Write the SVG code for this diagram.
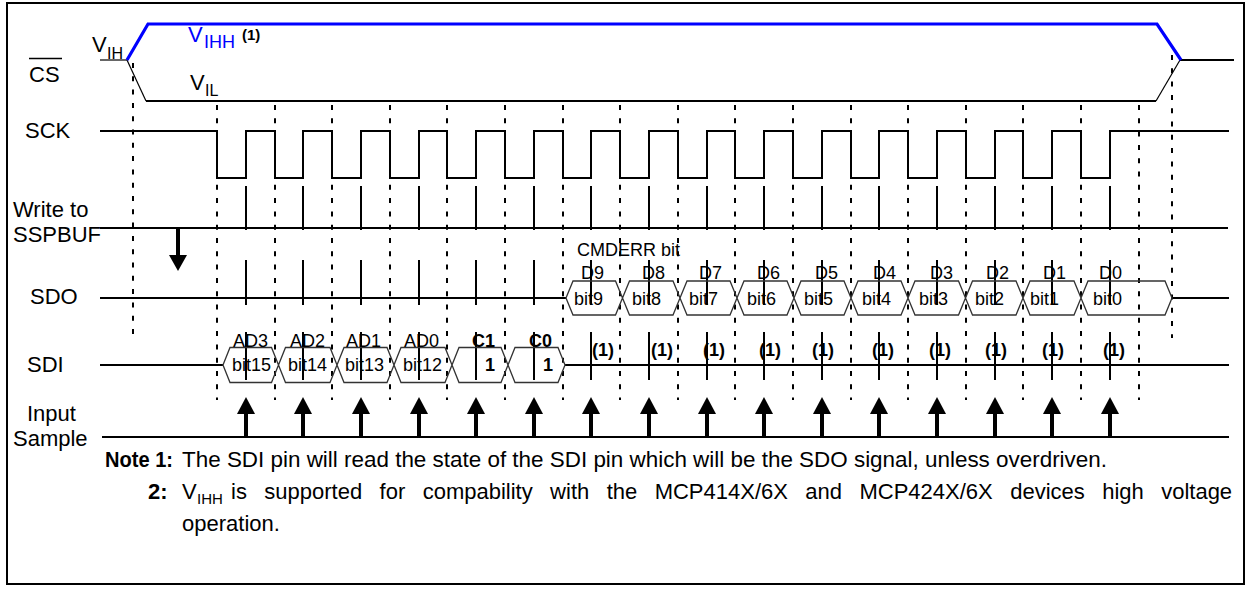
<svg xmlns="http://www.w3.org/2000/svg" xmlns:xlink="http://www.w3.org/1999/xlink" width="1251" height="592" viewBox="0 0 1251 592">
<style>
text{font-family:"Liberation Sans",Arial,sans-serif;fill:#000}
.lbl{font-size:22px}
.sm{font-size:18px}
.b{font-weight:bold}
.note{font-size:22px}
.sig{stroke:#000;stroke-width:2;fill:none}
.thin{stroke:#000;stroke-width:1.2;fill:none}
.dash{stroke:#000;stroke-width:2;stroke-dasharray:5 8.3;fill:none}
.mark{stroke:#000;stroke-width:2;fill:none}
.hex{stroke:#333;stroke-width:1.3;fill:none}
.blue{stroke:#0000ff;stroke-width:3.2;fill:none}
</style>
<defs>
<g id="upArrow"><rect x="-2" y="413" width="4" height="24" fill="#000"/><polygon points="0,397 -9,414 9,414" fill="#000"/></g>
</defs>
<rect x="7" y="3" width="1237" height="581" fill="#fff" stroke="#000" stroke-width="2"/>

<g id="connectors">
<g id="cs-dashes">
<line class="dash" x1="133" y1="63" x2="133" y2="338"/>
<line class="dash" x1="1172" y1="55" x2="1172" y2="338"/>
</g>
<g id="clock-dashes">
<line class="dash" x1="217" y1="105" x2="217" y2="400"/>
<line class="dash" x1="275" y1="105" x2="275" y2="400"/>
<line class="dash" x1="332" y1="105" x2="332" y2="400"/>
<line class="dash" x1="390" y1="105" x2="390" y2="400"/>
<line class="dash" x1="447" y1="105" x2="447" y2="400"/>
<line class="dash" x1="505" y1="105" x2="505" y2="400"/>
<line class="dash" x1="563" y1="105" x2="563" y2="400"/>
<line class="dash" x1="620" y1="105" x2="620" y2="400"/>
<line class="dash" x1="678" y1="105" x2="678" y2="400"/>
<line class="dash" x1="735" y1="105" x2="735" y2="400"/>
<line class="dash" x1="793" y1="105" x2="793" y2="400"/>
<line class="dash" x1="851" y1="105" x2="851" y2="400"/>
<line class="dash" x1="908" y1="105" x2="908" y2="400"/>
<line class="dash" x1="966" y1="105" x2="966" y2="400"/>
<line class="dash" x1="1023" y1="105" x2="1023" y2="400"/>
<line class="dash" x1="1081" y1="105" x2="1081" y2="400"/>
<line class="dash" x1="1139" y1="105" x2="1139" y2="400"/>
</g>
<g id="rise-marks">
<path class="mark" d="M246,186V230M246,260V305M246,332V380"/>
<path class="mark" d="M303,186V230M303,260V305M303,332V380"/>
<path class="mark" d="M361,186V230M361,260V305M361,332V380"/>
<path class="mark" d="M419,186V230M419,260V305M419,332V380"/>
<path class="mark" d="M476,186V230M476,260V305M476,332V380"/>
<path class="mark" d="M534,186V230M534,260V305M534,332V380"/>
<path class="mark" d="M591,186V230M591,260V305M591,332V380"/>
<path class="mark" d="M649,186V230M649,260V305M649,332V380"/>
<path class="mark" d="M707,186V230M707,260V305M707,332V380"/>
<path class="mark" d="M764,186V230M764,260V305M764,332V380"/>
<path class="mark" d="M822,186V230M822,260V305M822,332V380"/>
<path class="mark" d="M879,186V230M879,260V305M879,332V380"/>
<path class="mark" d="M937,186V230M937,260V305M937,332V380"/>
<path class="mark" d="M995,186V230M995,260V305M995,332V380"/>
<path class="mark" d="M1052,186V230M1052,260V305M1052,332V380"/>
<path class="mark" d="M1110,186V230M1110,260V305M1110,332V380"/>
</g>
<g id="write-arrow">
<rect x="176" y="228" width="4" height="28" fill="#000"/>
<polygon points="169,255 187,255 178,271" fill="#000"/>
</g>
<g id="sample-arrows">
<use xlink:href="#upArrow" x="246"/>
<use xlink:href="#upArrow" x="303"/>
<use xlink:href="#upArrow" x="361"/>
<use xlink:href="#upArrow" x="419"/>
<use xlink:href="#upArrow" x="476"/>
<use xlink:href="#upArrow" x="534"/>
<use xlink:href="#upArrow" x="591"/>
<use xlink:href="#upArrow" x="649"/>
<use xlink:href="#upArrow" x="707"/>
<use xlink:href="#upArrow" x="764"/>
<use xlink:href="#upArrow" x="822"/>
<use xlink:href="#upArrow" x="879"/>
<use xlink:href="#upArrow" x="937"/>
<use xlink:href="#upArrow" x="995"/>
<use xlink:href="#upArrow" x="1052"/>
<use xlink:href="#upArrow" x="1110"/>
</g>
</g>

<g id="cs">
<line x1="100" y1="60" x2="127" y2="60" stroke="#333" stroke-width="1.5"/>
<path class="thin" d="M127,60 L146,101"/>
<line class="sig" x1="146" y1="101" x2="1156" y2="101"/>
<path class="thin" d="M1156,101 L1180,60"/>
<line class="sig" x1="1180" y1="60" x2="1234" y2="60"/>
<path class="blue" d="M127,60 L148,24 H1157 L1181,60"/>
<text class="lbl" x="29" y="82">CS</text>
<line x1="29" y1="58.5" x2="62" y2="58.5" stroke="#000" stroke-width="1.5"/>
<text class="lbl" x="92" y="52">V</text><text x="107" y="59" font-size="16">IH</text>
<text class="lbl" x="188" y="42" style="fill:#0000ff">V</text><text x="204" y="48" font-size="18" style="fill:#0000ff">IHH</text><text class="b" x="242" y="40" font-size="15">(1)</text>
<text class="lbl" x="190" y="90">V</text><text x="205" y="96" font-size="16">IL</text>
</g>

<g id="sck">
<text class="lbl" x="25" y="138">SCK</text>
<path class="sig" d="M100,131 H217 V178 H246 V131 H275 V178 H303 V131 H332 V178 H361 V131 H390 V178 H419 V131 H447 V178 H476 V131 H505 V178 H534 V131 H563 V178 H591 V131 H620 V178 H649 V131 H678 V178 H707 V131 H735 V178 H764 V131 H793 V178 H822 V131 H851 V178 H879 V131 H908 V178 H937 V131 H966 V178 H995 V131 H1023 V178 H1052 V131 H1081 V178 H1110 V131 H1229"/>
</g>

<g id="write-sspbuf">
<text class="lbl" x="13" y="217">Write to</text>
<text class="lbl" x="13" y="242">SSPBUF</text>
<line class="sig" x1="100" y1="228" x2="1228" y2="228"/>
</g>

<g id="sdo">
<text class="lbl" x="30" y="304">SDO</text>
<line class="sig" x1="100" y1="298" x2="566" y2="298"/>
<line class="sig" x1="1172" y1="298" x2="1229" y2="298"/>
<path class="hex" d="M566,298 L573,281 L615.5,281 L622.5,298 L615.5,315 L573,315 Z M622.5,298 L629.5,281 L673,281 L680,298 L673,315 L629.5,315 Z M680,298 L687,281 L730,281 L737,298 L730,315 L687,315 Z M737,298 L744,281 L787,281 L794,298 L787,315 L744,315 Z M794,298 L801,281 L844,281 L851,298 L844,315 L801,315 Z M851,298 L858,281 L901,281 L908,298 L901,315 L858,315 Z M908,298 L915,281 L958.5,281 L965.5,298 L958.5,315 L915,315 Z M965.5,298 L972.5,281 L1016,281 L1023,298 L1016,315 L972.5,315 Z M1023,298 L1030,281 L1074,281 L1081,298 L1074,315 L1030,315 Z M1081,298 L1088,281 L1165,281 L1172,298 L1165,315 L1088,315 Z"/>
<text class="sm" x="577" y="256">CMDERR bit</text>
<text class="sm" x="581" y="279">D9</text>
<text class="sm" x="642" y="279">D8</text>
<text class="sm" x="699" y="279">D7</text>
<text class="sm" x="757" y="279">D6</text>
<text class="sm" x="815" y="279">D5</text>
<text class="sm" x="873" y="279">D4</text>
<text class="sm" x="930" y="279">D3</text>
<text class="sm" x="986" y="279">D2</text>
<text class="sm" x="1043" y="279">D1</text>
<text class="sm" x="1099" y="279">D0</text>
<text class="sm" x="574" y="305">bit9</text>
<text class="sm" x="632" y="305">bit8</text>
<text class="sm" x="689" y="305">bit7</text>
<text class="sm" x="747" y="305">bit6</text>
<text class="sm" x="804" y="305">bit5</text>
<text class="sm" x="862" y="305">bit4</text>
<text class="sm" x="919" y="305">bit3</text>
<text class="sm" x="975" y="305">bit2</text>
<text class="sm" x="1030" y="305">bit1</text>
<text class="sm" x="1093" y="305">bit0</text>
</g>

<g id="sdi">
<text class="lbl" x="27" y="372">SDI</text>
<line class="sig" x1="100" y1="365" x2="223" y2="365"/>
<line class="sig" x1="565" y1="365" x2="1229" y2="365"/>
<path class="hex" d="M223,365 L230,347.5 L271.5,347.5 L278.5,365 L271.5,382.5 L230,382.5 Z M278.5,365 L285.5,347.5 L330,347.5 L337,365 L330,382.5 L285.5,382.5 Z M337,365 L344,347.5 L387,347.5 L394,365 L387,382.5 L344,382.5 Z M394,365 L401,347.5 L445,347.5 L452,365 L445,382.5 L401,382.5 Z M452,365 L459,347.5 L501,347.5 L508,365 L501,382.5 L459,382.5 Z M508,365 L515,347.5 L558,347.5 L565,365 L558,382.5 L515,382.5 Z"/>
<text class="sm" x="233" y="347">AD3</text>
<text class="sm" x="290" y="347">AD2</text>
<text class="sm" x="346" y="347">AD1</text>
<text class="sm" x="404" y="347">AD0</text>
<text class="sm b" x="472" y="347">C1</text>
<text class="sm b" x="529" y="347">C0</text>
<text class="sm" x="232" y="371">bit15</text>
<text class="sm" x="288" y="371">bit14</text>
<text class="sm" x="345" y="371">bit13</text>
<text class="sm" x="403" y="371">bit12</text>
<text class="sm b" x="485" y="371">1</text>
<text class="sm b" x="543" y="371">1</text>
<text class="sm b" x="592" y="356">(1)</text>
<text class="sm b" x="651" y="356">(1)</text>
<text class="sm b" x="703" y="356">(1)</text>
<text class="sm b" x="759" y="356">(1)</text>
<text class="sm b" x="812" y="356">(1)</text>
<text class="sm b" x="872" y="356">(1)</text>
<text class="sm b" x="929" y="356">(1)</text>
<text class="sm b" x="985" y="356">(1)</text>
<text class="sm b" x="1042" y="356">(1)</text>
<text class="sm b" x="1103" y="356">(1)</text>
</g>

<g id="input-sample">
<text class="lbl" x="27" y="421">Input</text>
<text class="lbl" x="13" y="446">Sample</text>
<line class="sig" x1="102" y1="437" x2="1229" y2="437"/>
</g>

<g id="notes">
<text class="note b" x="105" y="467" textLength="68" lengthAdjust="spacingAndGlyphs">Note 1:</text>
<text class="note" x="182" y="467" textLength="925" lengthAdjust="spacingAndGlyphs">The SDI pin will read the state of the SDI pin which will be the SDO signal, unless overdriven.</text>
<text class="note b" x="148" y="499">2:</text>
<text class="note" x="182" y="499">V</text><text x="197" y="504" font-size="15">IHH</text>
<text class="note" x="231" y="499" word-spacing="11.3">is supported for compability with the MCP414X/6X and MCP424X/6X devices high voltage</text>
<text class="note" x="182" y="531">operation.</text>
</g>
</svg>
